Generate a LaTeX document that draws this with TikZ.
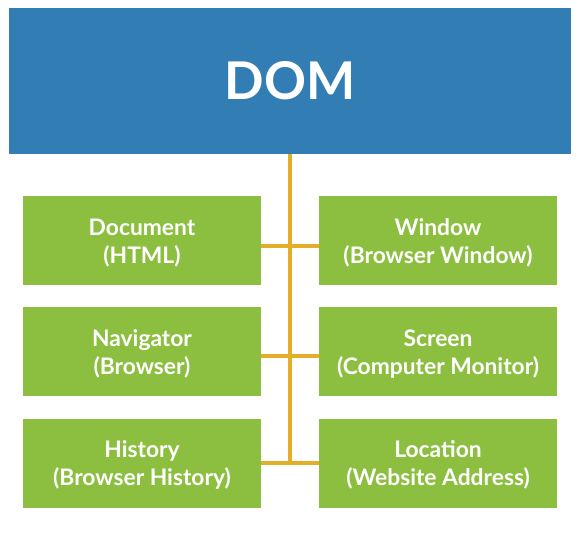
\documentclass[tikz,border=0pt]{standalone}
\usepackage{fontspec}
\setmainfont{Lato}
\usetikzlibrary{positioning}
\definecolor{domblue}{HTML}{337DB5}
\definecolor{objgreen}{HTML}{8CBF3F}
\definecolor{linkorange}{HTML}{E3AE28}
\tikzset{
  dombox/.style={fill=domblue, text=white, inner sep=0pt, outer sep=0pt,
    minimum width=562pt, minimum height=146pt,
    font=\fontsize{52}{60}\selectfont\bfseries},
  objbox/.style={fill=objgreen, text=white, align=center, inner sep=0pt,
    outer sep=0pt, minimum width=238pt, minimum height=89pt,
    font=\fontsize{22.8}{28}\selectfont\bfseries},
  link/.style={draw=linkorange, line width=4pt}
}
\newcommand{\objtext}[1]{\raisebox{-3pt}[\height][\depth]{\begin{tabular}{@{}c@{}}#1\end{tabular}}}

\begin{document}
\begin{tikzpicture}[x=1pt,y=-1pt]
    \useasboundingbox (0,0) rectangle (580,546);
    \node[dombox] (dom) at (290,81) {DOM};
    \foreach \y/\a/\b/\la/\lb in {
      240.5/doc/win/Document\\(HTML)/Window\\(Browser Window),
      351.5/nav/scr/Navigator\\(Browser)/Screen\\(Computer Monitor),
      463/his/loc/History\\(Browser History)/Location\\(Website Address)} {
      \node[objbox] (\a) at (142,\y) {\objtext{\la}};
      \node[objbox] (\b) at (438,\y) {\objtext{\lb}};
    }
    \coordinate (hub) at (290,463);
    \draw[link] (dom.south) -- (hub);
    \foreach \a/\b/\s in {doc/win/-5, nav/scr/-4.5, his/loc/0}
      \draw[link] ([yshift=\s pt]\a.east) -- ([yshift=\s pt]\b.west);
  \end{tikzpicture}
\end{document}
